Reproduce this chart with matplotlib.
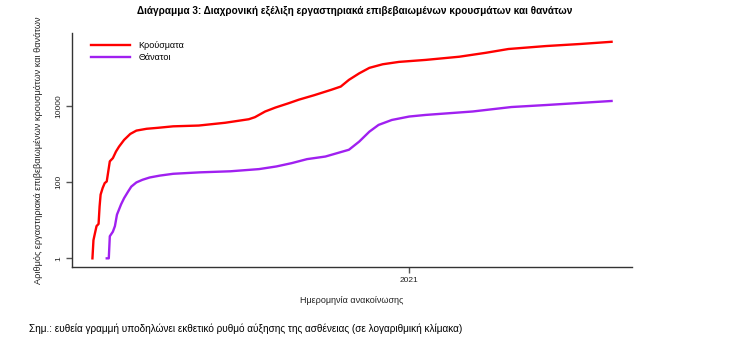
import matplotlib
matplotlib.use("Agg")
import matplotlib.pyplot as plt
import matplotlib.dates as mdates
import numpy as np
import pandas as pd

case_dates = ["2020-02-26", "2020-02-27", "2020-02-28", "2020-03-01", "2020-03-03", "2020-03-04",
              "2020-03-05", "2020-03-07", "2020-03-09", "2020-03-11", "2020-03-13", "2020-03-14",
              "2020-03-17", "2020-03-20", "2020-03-23", "2020-03-28", "2020-04-03", "2020-04-09",
              "2020-04-19", "2020-04-30", "2020-05-15", "2020-06-09", "2020-07-05", "2020-07-28",
              "2020-08-03", "2020-08-13", "2020-08-23", "2020-09-05", "2020-09-15", "2020-09-30",
              "2020-10-17", "2020-10-26", "2020-11-03", "2020-11-13", "2020-11-23", "2020-12-06",
              "2020-12-22", "2021-01-17", "2021-02-19", "2021-03-17", "2021-04-08", "2021-05-15",
              "2021-06-17", "2021-07-18"]
cases = [1, 3, 4, 7, 8, 23,
         47, 70, 94, 104, 234, 350,
         425, 630, 850, 1280, 1830, 2240,
         2500, 2650, 2900, 3040, 3600, 4450,
         5040, 7100, 9000, 11700, 14500, 19000,
         26500, 32000, 48000, 71000, 99000, 123000,
         142000, 160000, 194000, 246000, 309000, 370000,
         418000, 478000]

death_dates = ["2020-03-11", "2020-03-13", "2020-03-14", "2020-03-17", "2020-03-19", "2020-03-21",
               "2020-03-25", "2020-03-28", "2020-04-01", "2020-04-04", "2020-04-09", "2020-04-15",
               "2020-04-22", "2020-05-02", "2020-05-15", "2020-06-10", "2020-07-10", "2020-08-07",
               "2020-08-24", "2020-09-08", "2020-09-23", "2020-10-11", "2020-11-03", "2020-11-13",
               "2020-11-23", "2020-12-02", "2020-12-15", "2021-01-01", "2021-01-17", "2021-03-04",
               "2021-04-11", "2021-05-15", "2021-07-18"]
deaths = [1, 1, 3.8, 5, 7, 14,
          26, 38, 57, 76, 98, 115,
          132, 148, 165, 180, 192, 219,
          257, 314, 400, 468, 705, 1150,
          2100, 3160, 4260, 5240, 5770, 7100,
          9300, 10500, 13400]

series_labels = ["Κρούσματα", "Θάνατοι"]
y_ticks = [1, 100, 10000]
x_tick = "2021-01-01"

title = "Διάγραμμα 3: Διαχρονική εξέλιξη εργαστηριακά επιβεβαιωμένων κρουσμάτων και θανάτων"
xlabel = "Ημερομηνία ανακοίνωσης"
ylabel = "Αριθμός εργαστηριακά επιβεβαιωμένων κρουσμάτων και θανάτων"
note = "Σημ.: ευθεία γραμμή υποδηλώνει εκθετικό ρυθμό αύξησης της ασθένειας (σε λογαριθμική κλίμακα)"

narrow = ["Liberation Sans Narrow", "Liberation Sans", "DejaVu Sans"]
plain = ["Liberation Sans", "DejaVu Sans"]

fig = plt.figure(figsize=(7.43, 3.47), dpi=100)
ax = fig.add_axes([72/743, 1-267/347, (632-72)/743, (267-33)/347])

ax.plot(pd.to_datetime(case_dates), cases, color="#FF0000", lw=1.7, label=series_labels[0])
ax.plot(pd.to_datetime(death_dates), deaths, color="#A020F0", lw=1.7, label=series_labels[1])

ax.set_yscale("log")
ax.set_ylim(10**-0.227, 10**5.91)
ax.set_xlim(pd.Timestamp("2020-02-06"), pd.Timestamp("2021-08-07"))

ax.set_yticks(y_ticks)
ax.set_yticklabels([str(v) for v in y_ticks], rotation=90, va="center", fontsize=6, family=plain, color="#222222")
ax.yaxis.set_minor_locator(matplotlib.ticker.NullLocator())
ax.set_xticks([pd.Timestamp(x_tick)])
ax.set_xticklabels(["2021"], fontsize=6, family=plain, color="#222222")
ax.tick_params(axis="both", length=4, width=1, color="#555555", pad=3)

for s in ["top", "right"]:
    ax.spines[s].set_visible(False)
for s in ["left", "bottom"]:
    ax.spines[s].set_color("#333333")
    ax.spines[s].set_linewidth(1.0)

ax.set_xlabel(xlabel, fontsize=6.5, family=plain, color="#222222", labelpad=9)
ax.set_ylabel(ylabel, fontsize=6.6, family=plain, color="#222222", labelpad=9)

leg = ax.legend(loc="upper left", frameon=False, prop={"family": plain, "size": 6.5},
                handlelength=4.3, handletextpad=0.9, labelspacing=0.3,
                bbox_to_anchor=(0.02, 1.0))

fig.text(355/743, 1-11/347, title, ha="center", va="center", fontsize=7.2, fontweight="bold", family=narrow)
fig.text(29/743, 1-329/347, note, ha="left", va="center", fontsize=7.2, family=narrow)

fig.savefig("out.png", dpi=100)
